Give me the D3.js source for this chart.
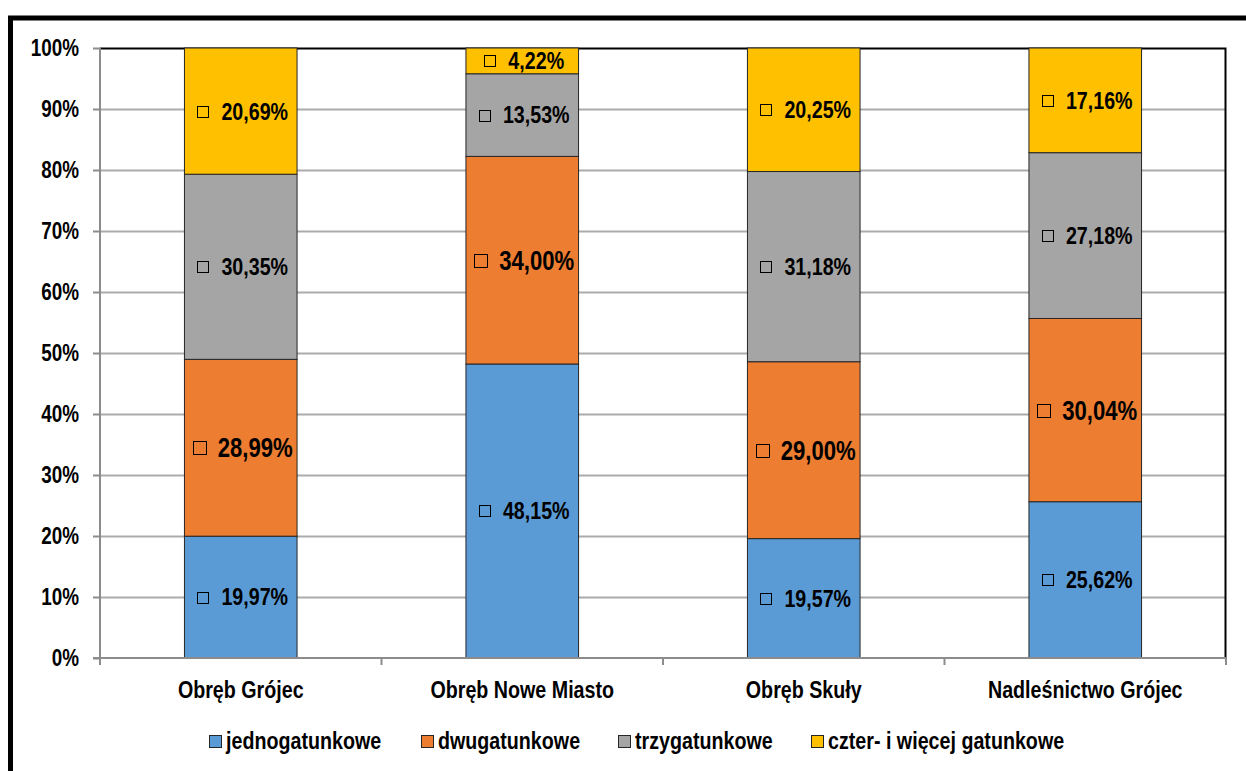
<!DOCTYPE html>
<html>
<head>
<meta charset="utf-8">
<script src="https://cdn.jsdelivr.net/npm/d3@7"></script>
<style>
  html, body { margin: 0; padding: 0; background: #ffffff; }
  svg { display: block; }
  text { font-family: "Liberation Sans", Arial, sans-serif; font-weight: bold; fill: #000; }
</style>
</head>
<body>
<svg id="chart" width="1246" height="771"></svg>
<script>
// Structure of stands by number of tree species, per forest district unit
const categories = ["Obręb Grójec", "Obręb Nowe Miasto", "Obręb Skuły", "Nadleśnictwo Grójec"];
const seriesNames = ["jednogatunkowe", "dwugatunkowe", "trzygatunkowe", "czter- i więcej gatunkowe"];
const jednogatunkowe = [19.97, 48.15, 19.57, 25.62];
const dwugatunkowe = [28.99, 34.00, 29.00, 30.04];
const trzygatunkowe = [30.35, 13.53, 31.18, 27.18];
const czterGatunkowe = [20.69, 4.22, 20.25, 17.16];
const yTicks = [0, 10, 20, 30, 40, 50, 60, 70, 80, 90, 100];
const colors = ["#5B9BD5", "#ED7D31", "#A5A5A5", "#FFC000"];

const seriesValues = [jednogatunkowe, dwugatunkowe, trzygatunkowe, czterGatunkowe];
const keys = seriesNames;
const rows = categories.map((c, i) => {
  const r = { category: c };
  keys.forEach((k, j) => { r[k] = seriesValues[j][i]; });
  return r;
});

const NARROW = 0.82; // horizontal squeeze to get a narrow sans look

// Text helper: condensed bold label anchored at (x, y)
function narrowText(parent, x, y, str, size, anchor) {
  const g = parent.append("g").attr("transform", `translate(${x},${y}) scale(${NARROW},1)`);
  const t = g.append("text").attr("x", 0).attr("y", 0).attr("dy", "0.35em")
    .attr("font-size", size).attr("text-anchor", anchor || "start").text(str);
  return { g, t, width: t.node().getComputedTextLength() * NARROW };
}

const svg = d3.select("#chart");
const plot = { left: 100, right: 1226, top: 48, bottom: 658 };

// Outer frame (thick line on the top and left)
svg.append("path")
  .attr("d", `M10.5,780 L10.5,18 L1260,18`)
  .attr("fill", "none").attr("stroke", "#000").attr("stroke-width", 5);

const x = d3.scaleBand().domain(categories).range([plot.left, plot.right]).paddingInner(0.6).paddingOuter(0.3);
const y = d3.scaleLinear().domain([0, 1]).range([plot.bottom, plot.top]);

// Horizontal gridlines
svg.append("g").selectAll("line").data(yTicks.filter(t => t > 0 && t < 100)).join("line")
  .attr("x1", plot.left).attr("x2", plot.right)
  .attr("y1", d => Math.round(y(d / 100)) + 0.5).attr("y2", d => Math.round(y(d / 100)) + 0.5)
  .attr("stroke", "#ABABAB").attr("stroke-width", 2);

// Plot area border: top and right
svg.append("path")
  .attr("d", `M${plot.left},${plot.top + 0.5} L${plot.right - 0.5},${plot.top + 0.5} L${plot.right - 0.5},${plot.bottom}`)
  .attr("fill", "none").attr("stroke", "#000").attr("stroke-width", 2);

// Stacked 100% bars
const stacked = d3.stack().keys(keys).offset(d3.stackOffsetExpand)(rows);
const layers = svg.append("g").selectAll("g").data(stacked).join("g")
  .attr("fill", (d, i) => colors[i]);
layers.selectAll("rect").data(d => d).join("rect")
  .attr("x", d => x(d.data.category))
  .attr("width", x.bandwidth())
  .attr("y", d => y(d[1]))
  .attr("height", d => y(d[0]) - y(d[1]))
  .attr("stroke", "#262626").attr("stroke-width", 1);

// Y axis
const yAxis = svg.append("g").attr("transform", `translate(${plot.left},0)`)
  .call(d3.axisLeft(y).tickValues(yTicks.map(t => t / 100)).tickFormat("").tickSize(7));
yAxis.select(".domain").attr("stroke", "#8C8C8C").attr("stroke-width", 2).attr("d", `M0,${plot.top}V${plot.bottom}`);
yAxis.selectAll(".tick line").attr("stroke", "#8C8C8C").attr("stroke-width", 2);
const yLabels = svg.append("g");
yTicks.forEach(t => narrowText(yLabels, 79, y(t / 100), t + "%", 23, "end"));

// X axis with tick marks at category boundaries
const xAxisG = svg.append("g");
xAxisG.append("line").attr("x1", plot.left - 7).attr("x2", plot.right)
  .attr("y1", plot.bottom).attr("y2", plot.bottom).attr("stroke", "#8C8C8C").attr("stroke-width", 2);
const step = (plot.right - plot.left) / categories.length;
xAxisG.selectAll("line.tk").data(d3.range(categories.length + 1)).join("line").attr("class", "tk")
  .attr("x1", i => plot.left + i * step).attr("x2", i => plot.left + i * step)
  .attr("y1", plot.bottom).attr("y2", plot.bottom + 7)
  .attr("stroke", "#8C8C8C").attr("stroke-width", 2);
categories.forEach(c => narrowText(xAxisG, x(c) + x.bandwidth() / 2, 690, c, 24, "middle"));

// Data labels with legend key
const fmt = v => v.toFixed(2).replace(".", ",") + "%";
const labelLayer = svg.append("g");
stacked.forEach((layer, si) => {
  const big = si === 1;
  const fs = big ? 27 : 24;
  const box = big ? 13 : 11;
  const gap = big ? 12 : 13;
  layer.forEach((d, ci) => {
    const v = seriesValues[si][ci];
    const cx = x(d.data.category) + x.bandwidth() / 2 + 2;
    const cy = (y(d[0]) + y(d[1])) / 2;
    const lbl = narrowText(labelLayer, 0, cy, fmt(v), fs, "start");
    const total = box + gap + lbl.width;
    const x0 = cx - total / 2;
    lbl.g.attr("transform", `translate(${x0 + box + gap},${cy}) scale(${NARROW},1)`);
    labelLayer.append("rect").attr("x", Math.round(x0) + 0.5).attr("y", Math.round(cy - box / 2) + 0.5)
      .attr("width", box).attr("height", box).attr("fill", "none").attr("stroke", "#000").attr("stroke-width", 1);
  });
});

// Legend
const legendX = [209, 421, 618, 811];
const legend = svg.append("g");
seriesNames.forEach((name, i) => {
  legend.append("rect").attr("x", legendX[i] + 0.5).attr("y", 735.5).attr("width", 12).attr("height", 12)
    .attr("fill", colors[i]).attr("stroke", "#262626").attr("stroke-width", 1);
  narrowText(legend, legendX[i] + 17, 741, name, 24, "start");
});
</script>
</body>
</html>
